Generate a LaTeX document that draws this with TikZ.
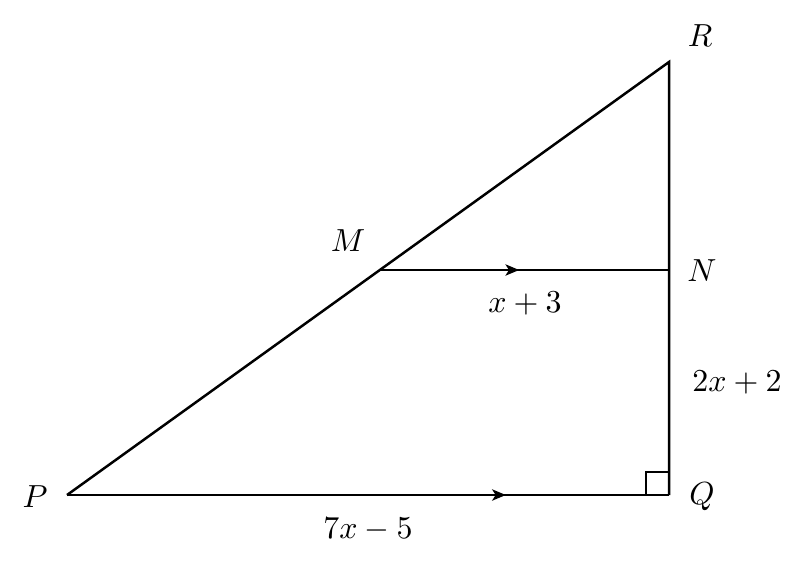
\documentclass[tikz,border=0pt]{standalone}
\usetikzlibrary{arrows.meta,calc,decorations.markings}
\begin{document}
\begin{tikzpicture}[x=0.3226pt,y=-0.3226pt,
  seg/.style={line width=0.8pt},
  midarrow/.style={postaction={decorate},decoration={markings,
     mark=at position #1 with {\arrow{Stealth[length=4.4pt,width=3.6pt,inset=1.1pt]}}}},
  lbl/.style={inner sep=0pt,scale=1.03}]
\useasboundingbox (0,0) rectangle (805,566);
\coordinate (P) at (67,495);
\coordinate (Q) at (669,495);
\coordinate (R) at (669,62);
\coordinate (N) at (669,270);
\coordinate (M) at (379.8,270);
\draw[seg,line join=miter] (Q) -- (R) -- (P);
\draw[seg,midarrow=0.729] (P) -- (Q);
\draw[seg,midarrow=0.482] (M) -- (N);
\draw[line width=0.85pt] (646,495) -- (646,472) -- (669,472);
\node[lbl] (lR) at (700,36) {$R$};
\node[lbl] (lM) at (348,241) {$M$};
\node[lbl] (lN) at (702,271) {$N$};
\node[lbl] (lP) at (35,497) {$P$};
\node[lbl] (lQ) at (702,497) {$Q$};
\node[lbl] (lMN) at (525,304) {$x+3$};
\node[lbl] (lQN) at (737,383) {$2x+2$};
\node[lbl] (lPQ) at (368,530) {$7x-5$};
\end{tikzpicture}
\end{document}
